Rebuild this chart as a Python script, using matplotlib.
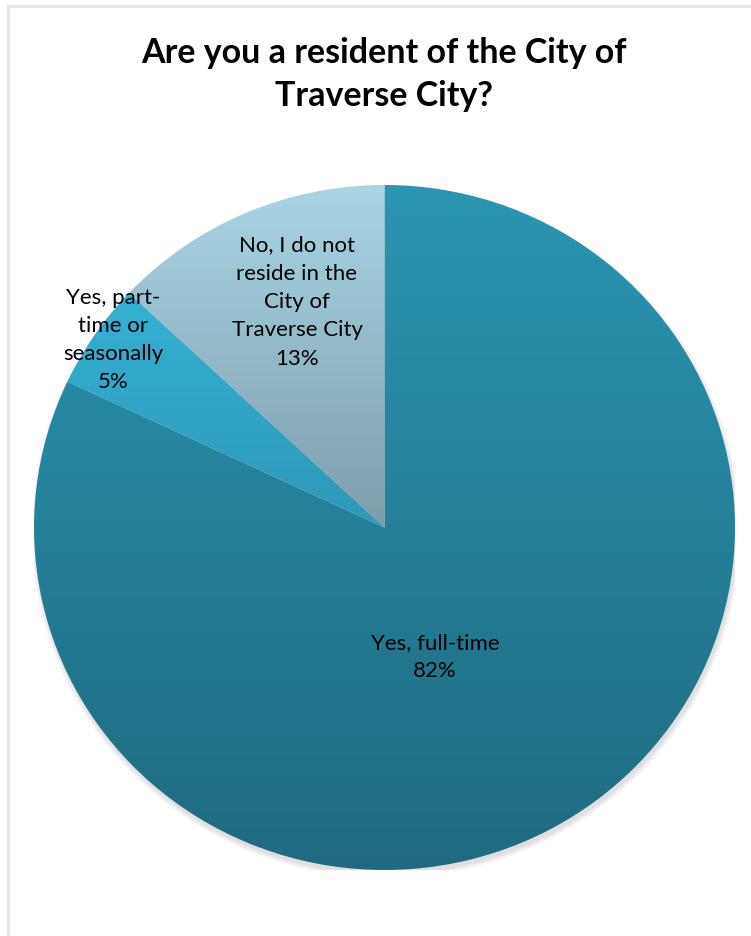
import numpy as np
import matplotlib.pyplot as plt
from matplotlib.colors import LinearSegmentedColormap
from matplotlib.patches import Ellipse
from matplotlib.lines import Line2D

labels = ["Yes, full-time", "Yes, part-\ntime or\nseasonally", "No, I do not\nreside in the\nCity of\nTraverse City"]
shares = [82, 5, 13]
colors_top = ["#2b95b2", "#35b1d4", "#a9d5e5"]
colors_bot = ["#1f6a80", "#2e98b8", "#7d9dab"]

W, H = 751, 936
fig = plt.figure(figsize=(W / 100, H / 100), dpi=100)
fig.patch.set_facecolor("white")

# light frame on left and top
fig.add_artist(Line2D([8 / W, 8 / W], [0, 1 - 6 / H], color="#dbe5f3", lw=2.2))
fig.add_artist(Line2D([8 / W, 1], [1 - 6 / H, 1 - 6 / H], color="#dbe5f3", lw=2.2))

fig.text(384 / W, 1 - 53 / H, "Are you a resident of the City of", ha="center", va="center",
         fontsize=24.5, fontweight="bold", family="Lato")
fig.text(384 / W, 1 - 96 / H, "Traverse City?", ha="center", va="center",
         fontsize=24.5, fontweight="bold", family="Lato")

# pie area (slightly elliptical like the source)
left, right, top, bot = 34, 735, 185, 870
ax = fig.add_axes([left / W, 1 - bot / H, (right - left) / W, (bot - top) / H])
ax.axis("off")

# soft shadow, mostly below
for i in range(4):
    ax.add_patch(Ellipse((0.004, -0.012), 2 + 0.008 * i, 2 + 0.008 * i, color="black",
                         alpha=0.03, lw=0, zorder=0))

wedges, _ = ax.pie(shares, startangle=90, counterclock=False, radius=1,
                   wedgeprops=dict(linewidth=0))
ax.set_aspect("auto")

for w, c1, c2 in zip(wedges, colors_top, colors_bot):
    w.set_facecolor("none")
    w.set_zorder(2)
    verts = w.get_path().vertices
    y0, y1 = verts[:, 1].min(), verts[:, 1].max()
    cmap = LinearSegmentedColormap.from_list("g", [c2, c1])
    grad = np.linspace(0, 1, 256).reshape(-1, 1)
    im = ax.imshow(grad, extent=[-1, 1, y0, y1], origin="lower", cmap=cmap,
                   aspect="auto", zorder=1, interpolation="bilinear")
    im.set_clip_path(w)

ax.set_xlim(-1, 1)
ax.set_ylim(-1, 1)
ax.set_aspect("auto")

def place(px, py, txt):
    fig.text(px / W, 1 - py / H, txt, ha="center", va="center", fontsize=16,
             family="Lato", linespacing=1.52)

place(435, 657, labels[0] + "\n" + f"{shares[0]}%")
place(113, 340, labels[1] + "\n" + f"{shares[1]}%")
place(297, 302, labels[2] + "\n" + f"{shares[2]}%")

fig.savefig("out.png", dpi=100, facecolor="white")
